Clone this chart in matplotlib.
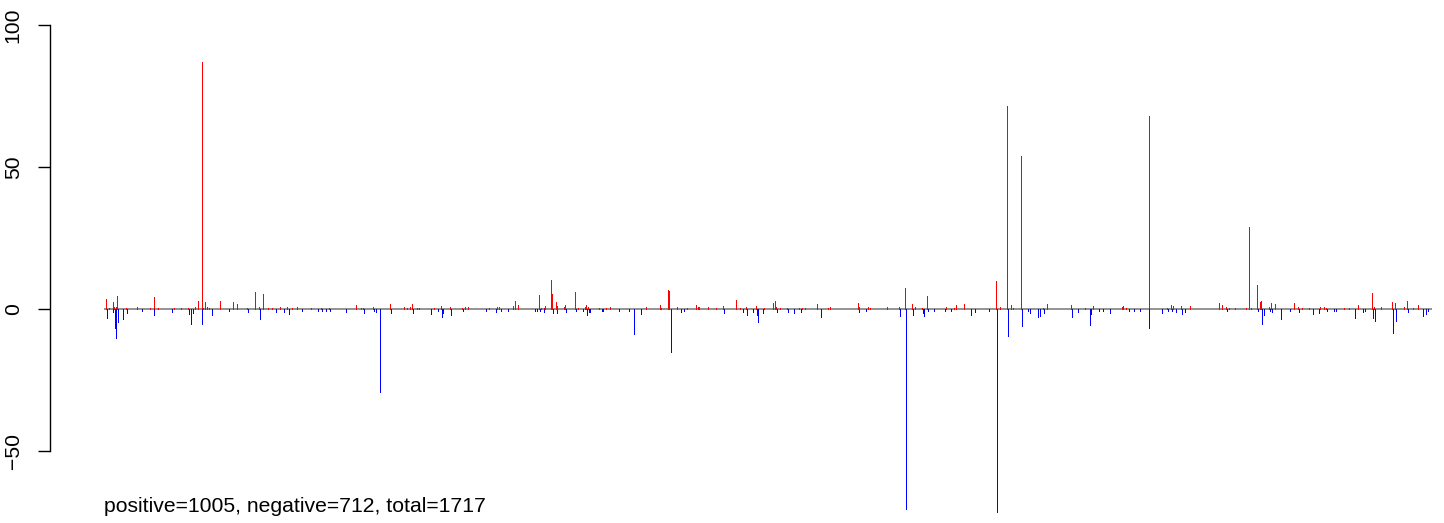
import numpy as np
import matplotlib
matplotlib.use("Agg")
import matplotlib.pyplot as plt

plt.rcParams["font.family"] = ["Liberation Sans", "DejaVu Sans"]

N_TOTAL = 1717
SUMMARY = "positive=1005, negative=712, total=1717"

# positive bars (index, value); unreadable tiny ones left at 0
pos_idx = [4, 7, 12, 14, 16, 18, 30, 43, 60, 65, 71, 92, 100, 110, 119, 122, 123,
           127, 129, 132, 134, 137, 151, 168, 173, 186, 196, 201, 206, 213, 218,
           229, 237, 244, 250, 268, 282, 292, 327, 333, 336, 349, 371, 389, 392,
           397, 399, 405, 408, 427, 437, 448, 464, 468, 472, 498, 509, 512, 530,
           532, 536, 563, 566, 569, 571, 578, 580, 585, 587, 595, 597, 610, 614,
           623, 624, 627, 641, 650, 655, 702, 719, 721, 730, 731, 742, 755, 766,
           768, 769, 770, 782, 792, 801, 818, 823, 831, 844, 854, 866, 868, 870,
           874, 884, 899, 903, 907, 923, 937, 939, 975, 977, 988, 991, 1013, 1028,
           1036, 1045, 1049, 1058, 1065, 1089, 1099, 1102, 1112, 1154, 1159, 1168,
           1173, 1175, 1186, 1215, 1220, 1251, 1269, 1279, 1317, 1318, 1322, 1351,
           1375, 1380, 1382, 1393, 1405, 1442, 1446, 1451, 1455, 1462, 1477, 1481,
           1483, 1491, 1495, 1496, 1507, 1509, 1514, 1539, 1544, 1549, 1558, 1573,
           1578, 1580, 1604, 1610, 1621, 1640, 1642, 1651, 1666, 1669, 1681, 1685,
           1692, 1699]
pos_val = [3.6, 0.4, 2.5, 0.7, 0.7, 4.6, 0.4, 0.7, 0.5, 4.2, 0.4, 0.4, 0.4, 0.5,
           0.7, 2.8, 0.7, 87.0, 0.5, 2.5, 0.7, 0.4, 2.8, 2.5, 1.8, 0.4, 6.0, 0.7,
           5.3, 0.4, 0.4, 0.7, 0.7, 0.4, 0.7, 0.4, 0.4, 0.4, 1.4, 0.4, 0.4, 0.7,
           1.8, 0.7, 0.4, 0.7, 1.8, 0.4, 0.4, 0.4, 1.1, 0.7, 0.4, 0.7, 0.7, 0.4,
           0.7, 0.7, 1.1, 2.8, 1.4, 4.9, 0.4, 0.4, 1.1, 10.2, 5.3, 2.5, 1.0, 0.7,
           1.4, 6.0, 0.4, 0.7, 1.4, 0.7, 0.4, 0.4, 0.7, 0.7, 1.4, 0.4, 6.7, 6.3,
           0.7, 0.4, 1.4, 0.7, 0.7, 0.7, 0.7, 0.4, 1.1, 3.2, 0.4, 0.7, 1.1, 0.4,
           2.1, 2.8, 0.7, 0.4, 0.4, 0.4, 0.4, 0.4, 1.8, 0.4, 0.7, 2.1, 0.7, 0.7,
           0.4, 0.7, 0.7, 7.4, 1.8, 0.7, 0.4, 4.6, 0.7, 0.4, 1.4, 1.8, 9.9, 0.7,
           71.5, 1.4, 0.4, 54.0, 0.4, 1.8, 1.4, 0.4, 1.1, 0.7, 1.1, 0.4, 68.0, 0.4,
           1.4, 1.1, 1.1, 1.1, 2.1, 1.4, 0.7, 0.4, 0.4, 0.4, 29.0, 0.4, 8.5, 2.5,
           2.8, 0.7, 2.1, 1.8, 2.1, 0.7, 0.4, 0.4, 0.7, 0.7, 0.4, 0.4, 0.4, 1.4,
           5.6, 0.7, 0.7, 2.5, 2.1, 0.7, 2.8, 0.4, 1.4]

# negative bars (index, value)
neg_idx = [5, 13, 15, 17, 19, 25, 31, 50, 66, 89, 111, 113, 116, 128, 141, 163,
           187, 202, 203, 223, 233, 240, 257, 278, 283, 288, 293, 314, 337, 350,
           352, 358, 372, 400, 424, 433, 438, 439, 449, 465, 494, 507, 514, 523,
           558, 561, 564, 570, 581, 586, 598, 611, 620, 625, 628, 629, 644, 646,
           666, 680, 686, 695, 734, 746, 750, 802, 827, 832, 840, 845, 846, 853,
           871, 885, 893, 902, 928, 976, 986, 1029, 1037, 1046, 1059, 1060, 1066,
           1074, 1088, 1096, 1122, 1127, 1145, 1155, 1169, 1187, 1195, 1197, 1208,
           1210, 1216, 1252, 1259, 1275, 1277, 1287, 1292, 1301, 1326, 1332, 1340,
           1352, 1368, 1376, 1381, 1386, 1394, 1398, 1452, 1492, 1498, 1500, 1508,
           1510, 1522, 1534, 1545, 1563, 1571, 1581, 1590, 1593, 1617, 1628, 1630,
           1641, 1643, 1667, 1670, 1686, 1705, 1709, 1712]
neg_val = [-3.0, -0.9, -6.8, -10.1, -4.7, -3.4, -1.3, -0.6, -2.0, -0.9, -1.6,
           -5.2, -1.3, -5.2, -2.0, -0.6, -0.9, -2.3, -3.4, -0.9, -0.9, -1.6, -0.6,
           -0.6, -0.6, -0.6, -0.6, -0.9, -1.3, -0.6, -0.9, -29.2, -1.3, -1.3, -1.6,
           -0.6, -2.7, -1.3, -2.0, -0.6, -0.6, -0.9, -0.6, -0.6, -0.6, -0.6, -0.6,
           -0.9, -1.3, -1.3, -0.9, -0.6, -0.6, -2.0, -0.9, -0.9, -0.6, -0.6, -0.6,
           -0.6, -8.7, -1.6, -15.3, -0.9, -0.6, -1.3, -0.9, -2.0, -0.9, -2.0, -4.5,
           -1.3, -0.9, -0.9, -1.3, -0.9, -2.7, -0.9, -0.6, -2.3, -70.4, -2.0, -1.3,
           -2.3, -0.6, -0.6, -0.6, -0.6, -2.0, -0.9, -0.6, -71.5, -9.4, -5.9, -0.6,
           -1.3, -2.7, -2.3, -1.3, -2.7, -0.9, -5.5, -1.6, -0.6, -0.6, -1.3, -0.6,
           -0.6, -0.6, -6.6, -1.3, -0.6, -0.6, -0.9, -1.6, -0.9, -0.6, -0.6, -5.2,
           -2.0, -0.6, -0.9, -3.4, -0.6, -0.9, -1.6, -1.3, -0.6, -0.6, -0.6, -3.0,
           -0.9, -0.6, -3.0, -4.1, -8.3, -4.1, -0.9, -2.3, -1.6, -0.6]

values = np.zeros(N_TOTAL)
values[np.array(pos_idx) - 1] = pos_val
values[np.array(neg_idx) - 1] = neg_val
x = np.arange(1, N_TOTAL + 1)

W, H = 1444, 523
fig = plt.figure(figsize=(W / 100, H / 100), dpi=100)
ax = fig.add_axes([50 / W, 0, (W - 50) / W, 1])

ax.hlines(0, 1, N_TOTAL, color="gray", linewidth=1.2, zorder=1)
colors = np.where(values >= 0, "red", "blue")
ax.vlines(x, 0, values, colors=colors, linewidth=0.72, antialiased=False, zorder=2)

ax.set_xlim(-68.8, 1732.6)
ax.set_ylim(-75.35, 108.8)

for side in ["top", "right", "bottom"]:
    ax.spines[side].set_visible(False)
ax.spines["left"].set_bounds(-50, 100)
ax.spines["left"].set_linewidth(1.0)
ax.set_xticks([])
ax.set_yticks([-50, 0, 50, 100])
ax.tick_params(axis="y", length=8.6, width=1.0, pad=11, labelsize=15.2)
for lbl in ax.get_yticklabels():
    lbl.set_rotation(90)
    lbl.set_va("center")

fig.text(104 / W, (H - 512) / H, SUMMARY, fontsize=15.2, ha="left", va="baseline")

fig.savefig("out.png", dpi=100)
